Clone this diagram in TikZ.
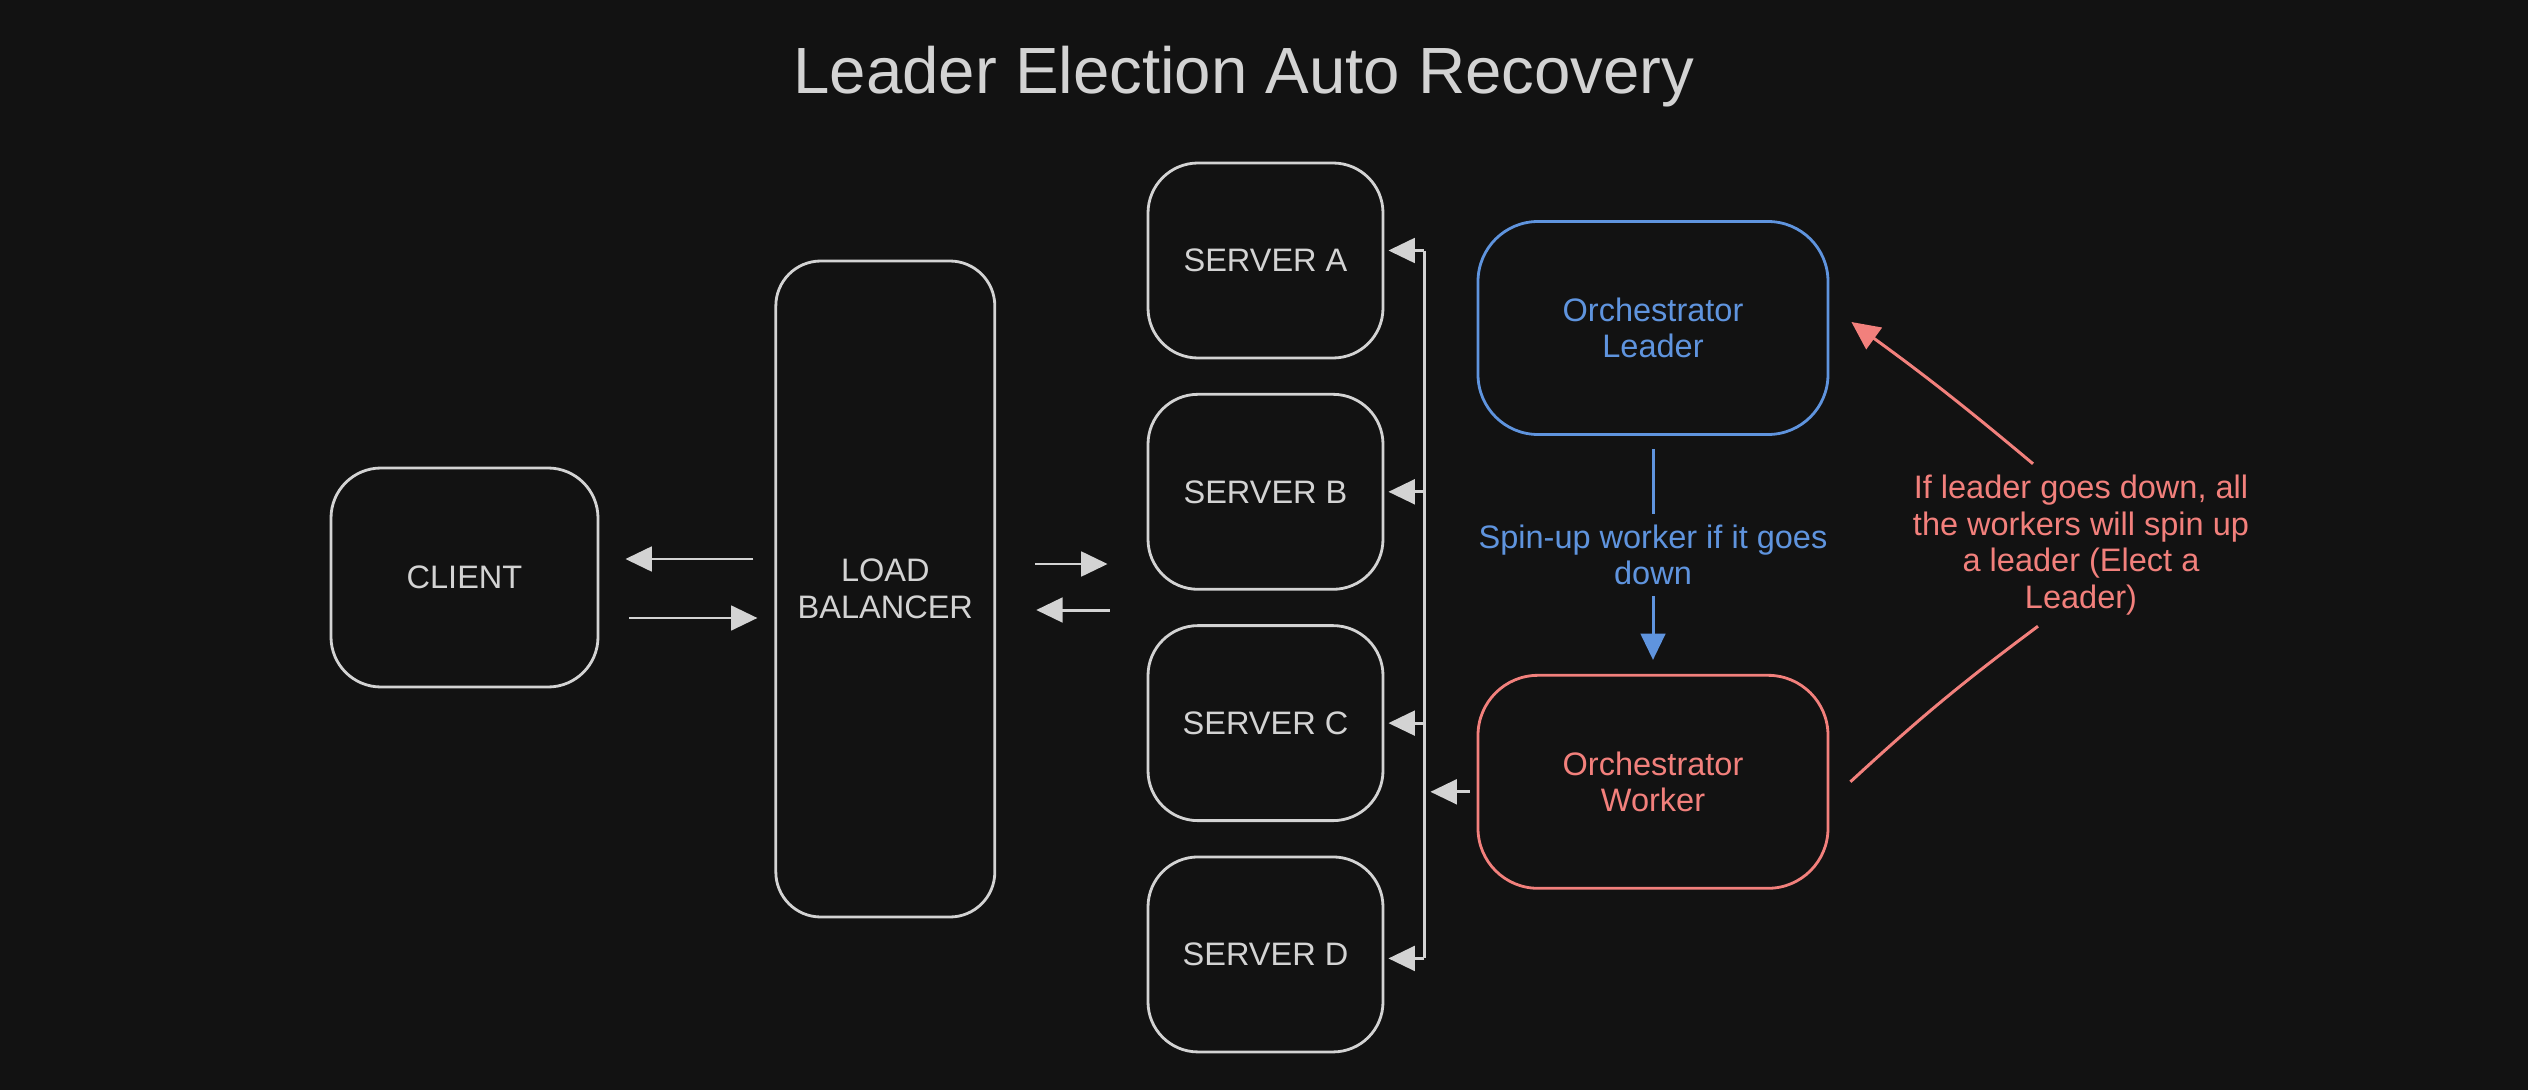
\documentclass[tikz,border=0pt]{standalone}
\usepackage{fontspec}
\setmainfont{Liberation Sans}
\usepackage{xcolor}
\usetikzlibrary{arrows.meta, positioning, calc}

\definecolor{bgdark}{HTML}{121212}
\definecolor{inkgray}{HTML}{D3D3D3}
\definecolor{inkblue}{RGB}{95,148,222}
\definecolor{inkred}{RGB}{242,128,124}

\begin{document}
\begin{tikzpicture}[node distance=0.335cm,
    block/.style={rectangle, rounded corners=0.5cm, draw=inkgray, line width=0.8pt, fill=bgdark, text=inkgray, align=center, font=\fontsize{9.25}{10.4}\selectfont},
    server/.style={block, minimum width=2.35cm, minimum height=1.95cm},
    orch/.style={block, rounded corners=0.6cm, minimum width=3.5cm, minimum height=2.13cm},
    note/.style={align=center, inner sep=3pt, font=\fontsize{9.25}{10.4}\selectfont},
    arr/.style={line width=0.85pt, draw=inkgray, -{Triangle[length=7.5pt, width=7pt]}},
    bus/.style={line width=0.85pt, draw=inkgray},
    bluearr/.style={line width=0.85pt, draw=inkblue, -{Triangle[length=7.5pt, width=7pt]}},
    redarr/.style={line width=0.85pt, draw=inkred, -{Triangle[length=8pt, width=7.5pt]}},
    redline/.style={line width=0.85pt, draw=inkred}
]

\fill[bgdark] (0,0) rectangle (25.28,10.9);

\node[text=inkgray, font=\fontsize{18.6}{22}\selectfont] (title) at (12.44,10.13) {Leader Election Auto Recovery};

\node[block, minimum width=2.67cm, minimum height=2.19cm] (client) at (4.645,5.125) {CLIENT};
\node[block, rounded corners=0.45cm, minimum width=2.19cm, minimum height=6.56cm, right=1.75cm of client, yshift=-0.115cm] (lb) {LOAD\\BALANCER};

\node[server] (sa) at (12.655,8.295) {SERVER A};
\node[server, below=of sa] (sb) {SERVER B};
\node[server, below=of sb] (sc) {SERVER C};
\node[server, below=of sc] (sd) {SERVER D};

\node[orch, draw=inkblue, text=inkblue] (leader) at (16.53,7.62) {Orchestrator\\Leader};
\node[orch, draw=inkred, text=inkred, below=2.38cm of leader] (worker) {Orchestrator\\Worker};

\node[note, text=inkred] (vote) at (20.81,5.45) {If leader goes down, all\\the workers will spin up\\a leader (Elect a\\Leader)};

\draw[arr, shorten <=0.21cm, shorten >=0.26cm] ([yshift=0.3cm]lb.west) -- ([yshift=0.3cm]lb.west -| client.east);
\draw[arr, shorten <=0.3cm, shorten >=0.17cm] ([yshift=-0.29cm]lb.west -| client.east) -- ([yshift=-0.29cm]lb.west);
\draw[arr, shorten <=0.39cm, shorten >=0.39cm] ([yshift=0.25cm]lb.east) -- ([yshift=0.25cm]lb.east -| sb.west);
\draw[arr, shorten <=0.37cm, shorten >=0.4cm] ([yshift=-0.21cm]lb.east -| sb.west) -- ([yshift=-0.21cm]lb.east);

\coordinate (bustop) at ([xshift=0.4cm, yshift=0.1cm]sa.east);
\coordinate (busbot) at ([yshift=-0.04cm]bustop |- sd.east);
\draw[bus] (bustop) -- (busbot);
\draw[arr, shorten >=0.04cm] (bustop) -- (bustop -| sa.east);
\foreach \s in {sb,sc}
    \draw[arr, shorten >=0.04cm] (bustop |- \s.east) -- (\s.east);
\draw[arr, shorten >=0.04cm] (busbot) -- (busbot -| sd.east);
\draw[arr, shorten <=0.07cm, shorten >=0.06cm] ([yshift=-0.1cm]worker.west) -- ([yshift=-0.1cm]worker.west -| bustop);

\draw[bluearr, shorten <=0.13cm, shorten >=0.14cm] (leader) -- node[note, fill=bgdark, text=inkblue] {Spin-up worker if it goes\\down} (worker);

\draw[redarr] ([xshift=-0.48cm]vote.north) to[bend right=2] ([xshift=0.22cm, yshift=0.06cm]leader.east);
\draw[redline] ([xshift=0.21cm]worker.east) to[bend left=3] ([xshift=-0.43cm]vote.south);

\end{tikzpicture}
\end{document}
